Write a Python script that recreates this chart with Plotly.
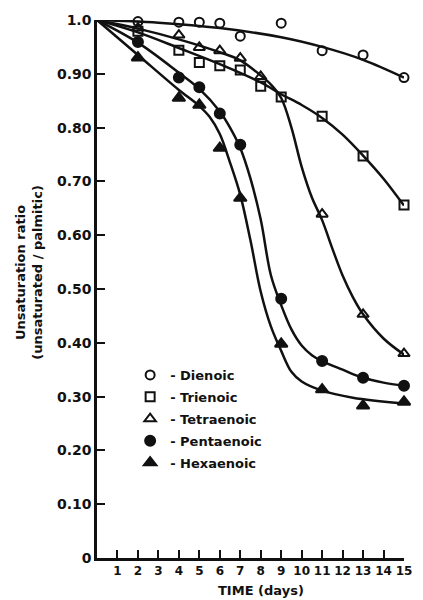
import plotly.graph_objects as go

# Measured unsaturation ratios (unsaturated / palmitic) by day
days_dienoic = [2, 4, 5, 6, 7, 9, 11, 13, 15]
dienoic = [0.997, 0.996, 0.996, 0.994, 0.970, 0.994, 0.943, 0.935, 0.893]

days_trienoic = [2, 4, 5, 6, 7, 8, 9, 11, 13, 15]
trienoic = [0.979, 0.944, 0.921, 0.915, 0.907, 0.877, 0.857, 0.821, 0.747, 0.656]

days_tetraenoic = [2, 4, 5, 6, 7, 8, 11, 13, 15]
tetraenoic = [0.985, 0.972, 0.949, 0.943, 0.929, 0.895, 0.639, 0.453, 0.380]

days_pentaenoic = [2, 4, 5, 6, 7, 9, 11, 13, 15]
pentaenoic = [0.959, 0.893, 0.875, 0.826, 0.768, 0.482, 0.366, 0.335, 0.320]

days_hexaenoic = [2, 4, 5, 6, 7, 9, 11, 13, 15]
hexaenoic = [0.930, 0.855, 0.842, 0.762, 0.669, 0.398, 0.313, 0.283, 0.290]

# Hand-fitted trend curves (knots of each smooth curve)
fit_dienoic_t = [0, 3, 6, 9, 11, 13, 15]
fit_dienoic = [1.0, 0.995, 0.985, 0.968, 0.950, 0.926, 0.893]

fit_trienoic_t = [0, 2, 4, 6, 8, 9, 10, 11, 12, 13, 14, 15]
fit_trienoic = [1.0, 0.977, 0.948, 0.918, 0.884, 0.862, 0.842, 0.818, 0.787, 0.748, 0.705, 0.655]

fit_tetraenoic_t = [0, 2, 4, 6, 7, 8, 8.5, 9, 9.5, 10, 10.5, 11, 11.5, 12, 12.5, 13, 14, 15]
fit_tetraenoic = [1.0, 0.984, 0.964, 0.940, 0.925, 0.897, 0.880, 0.855, 0.800, 0.727, 0.670, 0.628,
                  0.575, 0.525, 0.485, 0.453, 0.408, 0.378]

fit_pentaenoic_t = [0, 2, 4, 5, 6, 6.5, 7, 7.5, 8, 8.5, 9, 9.5, 10, 10.5, 11, 12, 13, 14, 15]
fit_pentaenoic = [1.0, 0.958, 0.902, 0.872, 0.830, 0.800, 0.762, 0.705, 0.629, 0.525, 0.470,
                  0.425, 0.395, 0.377, 0.366, 0.350, 0.335, 0.326, 0.320]

fit_hexaenoic_t = [0, 2, 4, 5, 5.5, 6, 6.5, 7, 7.5, 8, 8.5, 9, 9.5, 10, 11, 12.5, 15]
fit_hexaenoic = [1.0, 0.935, 0.870, 0.840, 0.820, 0.788, 0.735, 0.675, 0.590, 0.495, 0.430,
                 0.385, 0.346, 0.328, 0.311, 0.298, 0.287]

x_ticks = list(range(1, 16))
y_ticks = [0, 0.1, 0.2, 0.3, 0.4, 0.5, 0.6, 0.7, 0.8, 0.9, 1.0]
y_tick_text = ["0", "0.10", "0.20", "0.30", "0.40", "0.50", "0.60", "0.70", "0.80", "0.90", "1.0"]

FONT = "DejaVu Sans"
INK = "#111111"

series = [
    ("Dienoic", days_dienoic, dienoic, fit_dienoic_t, fit_dienoic, "circle-open", 9),
    ("Trienoic", days_trienoic, trienoic, fit_trienoic_t, fit_trienoic, "square-open", 9),
    ("Tetraenoic", days_tetraenoic, tetraenoic, fit_tetraenoic_t, fit_tetraenoic, "triangle-up-open", 10),
    ("Pentaenoic", days_pentaenoic, pentaenoic, fit_pentaenoic_t, fit_pentaenoic, "circle", 10),
    ("Hexaenoic", days_hexaenoic, hexaenoic, fit_hexaenoic_t, fit_hexaenoic, "triangle-up", 11),
]

fig = go.Figure()

for name, t, v, ft, fv, sym, size in series:
    fig.add_trace(go.Scatter(
        x=ft, y=fv, mode="lines",
        line=dict(color=INK, width=2.5, shape="spline", smoothing=1.0),
        showlegend=False, hoverinfo="skip", cliponaxis=False,
    ))

for name, t, v, ft, fv, sym, size in series:
    fig.add_trace(go.Scatter(
        x=t, y=v, mode="markers", name="- " + name, legendgroup=name,
        marker=dict(symbol=sym, size=size, color=INK,
                    line=dict(color=INK, width=2)),
        cliponaxis=False,
    ))

fig.update_layout(
    width=423, height=600,
    margin=dict(l=97, r=11, t=20, b=42),
    paper_bgcolor="white", plot_bgcolor="white",
    font=dict(family=FONT, color=INK),
    showlegend=True,
    legend=dict(
        x=(131 - 97) / 315, y=(558 - 360) / 538, xanchor="left", yanchor="top",
        bgcolor="rgba(0,0,0,0)", borderwidth=0,
        font=dict(family=FONT, size=13, color=INK, weight="bold"),
        traceorder="grouped", tracegroupgap=2,
    ),
    xaxis=dict(
        range=[0, 15], tickmode="array", tickvals=x_ticks,
        ticktext=[str(v) for v in x_ticks],
        ticks="inside", ticklen=8, tickwidth=2, tickcolor=INK,
        showline=True, linecolor=INK, linewidth=2.5,
        showgrid=False, zeroline=False,
        tickfont=dict(family=FONT, size=12, color=INK, weight="bold"),
    ),
    yaxis=dict(
        range=[0, 1.0], tickmode="array", tickvals=y_ticks, ticktext=y_tick_text,
        ticks="inside", ticklen=8, tickwidth=2, tickcolor=INK,
        showline=True, linecolor=INK, linewidth=2.5,
        showgrid=False, zeroline=False,
        tickfont=dict(family=FONT, size=14, color=INK, weight="bold"),
    ),
    annotations=[
        dict(text="TIME (days)", xref="paper", yref="paper",
             x=(265 - 97) / 315, y=-(590 - 558) / 538, xanchor="center", yanchor="middle",
             showarrow=False, font=dict(family=FONT, size=13, color=INK, weight="bold")),
        dict(text="Unsaturation ratio<br>(unsaturated / palmitic)", xref="paper", yref="paper",
             x=-(97 - 27) / 315, y=(558 - 272) / 538, xanchor="center", yanchor="middle",
             textangle=-90, showarrow=False,
             font=dict(family=FONT, size=13, color=INK, weight="bold")),
    ],
)

fig.write_html("out.html")
